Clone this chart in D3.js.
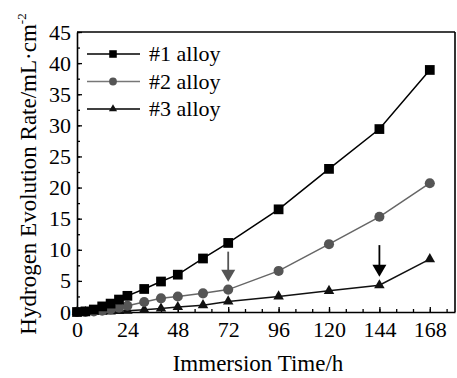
<!DOCTYPE html>
<html>
<head>
<meta charset="utf-8">
<script src="https://cdn.jsdelivr.net/npm/d3@7"></script>
<style>
  body { margin: 0; background: #fff; }
  svg text { font-family: "Liberation Serif", "Times New Roman", serif; fill: #000; }
</style>
</head>
<body>
<div id="chart"></div>
<script>
// immersion time (h) and hydrogen evolution rate (mL/cm2)
const alloy1Times = [0, 4, 8, 12, 16, 20, 24, 32, 40, 48, 60, 72, 96, 120, 144, 168];
const alloy1Values = [0, 0.1, 0.4, 0.9, 1.35, 2.0, 2.6, 3.7, 4.9, 6.0, 8.6, 11.1, 16.5, 23.0, 29.4, 38.9];

const alloy2Times = [0, 4, 8, 12, 16, 20, 24, 32, 40, 48, 60, 72, 96, 120, 144, 168];
const alloy2Values = [0, 0, 0.1, 0.2, 0.4, 0.7, 1.0, 1.6, 2.2, 2.5, 3.0, 3.6, 6.6, 10.9, 15.3, 20.7];

const alloy3Times = [0, 4, 8, 12, 16, 20, 24, 32, 40, 48, 60, 72, 96, 120, 144, 168];
const alloy3Values = [0, 0, 0, 0.05, 0.1, 0.15, 0.2, 0.35, 0.55, 0.8, 1.1, 1.7, 2.5, 3.4, 4.3, 8.5];

const seriesNames = ['#1 alloy', '#2 alloy', '#3 alloy'];
const xTickValues = [0, 24, 48, 72, 96, 120, 144, 168];
const yTickValues = [0, 5, 10, 15, 20, 25, 30, 35, 40, 45];

// arrows: [time, from, to]
const arrowTimes = [72, 144];
const arrowFrom = [9.7, 10.75];
const arrowTo = [4.85, 5.65];

const width = 457, height = 378;
const margin = { top: 32, right: 2, bottom: 66, left: 77 };
const innerW = width - margin.left - margin.right;
const innerH = height - margin.top - margin.bottom;

const svg = d3.select('#chart')
    .append('svg')
    .attr('width', width)
    .attr('height', height);

const g = svg.append('g')
    .attr('transform', `translate(${margin.left},${margin.top})`);

const x = d3.scaleLinear().domain([0, 180]).range([0, innerW]);
const y = d3.scaleLinear().domain([0, 45]).range([innerH, 0]);

const series = [
    { name: seriesNames[0], times: alloy1Times, values: alloy1Values, line: '#000', fill: '#000', shape: d3.symbolSquare, size: 95 },
    { name: seriesNames[1], times: alloy2Times, values: alloy2Values, line: '#666', fill: '#555', shape: d3.symbolCircle, size: 80 },
    { name: seriesNames[2], times: alloy3Times, values: alloy3Values, line: '#111', fill: '#111', shape: d3.symbolTriangle, size: 48 },
];

// minor ticks
g.append('g')
    .attr('transform', `translate(0,${innerH})`)
    .call(d3.axisBottom(x).tickValues(d3.range(0, 181, 8)).tickSize(-3).tickFormat(''))
    .call(a => a.select('.domain').remove())
    .selectAll('line').attr('stroke-width', 1.3);
g.append('g')
    .call(d3.axisLeft(y).tickValues(d3.range(0, 45.1, 2.5)).tickSize(-3).tickFormat(''))
    .call(a => a.select('.domain').remove())
    .selectAll('line').attr('stroke-width', 1.3);

// major axes
const xAxis = g.append('g')
    .attr('transform', `translate(0,${innerH})`)
    .call(d3.axisBottom(x).tickValues(xTickValues).tickSizeInner(-5).tickSizeOuter(0).tickPadding(9));
const yAxis = g.append('g')
    .call(d3.axisLeft(y).tickValues(yTickValues).tickSizeInner(-5).tickSizeOuter(0).tickPadding(6));

[xAxis, yAxis].forEach(a => {
    a.select('.domain').attr('stroke-width', 1.6);
    a.selectAll('line').attr('stroke-width', 1.3);
    a.selectAll('text')
        .attr('font-size', 22)
        .attr('font-family', '"Liberation Serif", serif')
        .attr('fill', '#000');
});

// frame top / right
g.append('line').attr('x1', 0).attr('x2', innerW).attr('y1', 0).attr('y2', 0)
    .attr('stroke', '#000').attr('stroke-width', 1.6);
g.append('line').attr('x1', innerW).attr('x2', innerW).attr('y1', 0).attr('y2', innerH)
    .attr('stroke', '#000').attr('stroke-width', 1.6);

// series
const line = d3.line().x(d => x(d[0])).y(d => y(d[1]));

series.slice().reverse().forEach(s => {
    const pts = s.times.map((t, i) => [t, s.values[i]]);
    g.append('path')
        .datum(pts)
        .attr('fill', 'none')
        .attr('stroke', s.line)
        .attr('stroke-width', 1.5)
        .attr('d', line);
    g.selectAll(null)
        .data(pts)
        .enter()
        .append('path')
        .attr('transform', d => `translate(${x(d[0])},${y(d[1])})`)
        .attr('d', d3.symbol().type(s.shape).size(s.size))
        .attr('fill', s.fill);
});

// arrows
const arrowColors = ['#555', '#000'];
arrowTimes.forEach((t, i) => {
    const ax = x(t), y0 = y(arrowFrom[i]), y1 = y(arrowTo[i]);
    g.append('line')
        .attr('x1', ax).attr('x2', ax)
        .attr('y1', y0).attr('y2', y1 - 10)
        .attr('stroke', arrowColors[i]).attr('stroke-width', 1.8);
    g.append('path')
        .attr('d', `M${ax - 7},${y1 - 12}L${ax + 7},${y1 - 12}L${ax},${y1}Z`)
        .attr('fill', arrowColors[i]);
});

// legend
const legend = svg.append('g').attr('transform', 'translate(87,54)');
series.forEach((s, i) => {
    const row = legend.append('g').attr('transform', `translate(0,${i * 27.5})`);
    row.append('line').attr('x1', 0).attr('x2', 53).attr('y1', 0).attr('y2', 0)
        .attr('stroke', i === 1 ? '#777' : '#000').attr('stroke-width', 1.5);
    row.append('path')
        .attr('transform', 'translate(26,0)')
        .attr('d', d3.symbol().type(s.shape).size(s.size * 0.6))
        .attr('fill', s.fill);
    row.append('text')
        .attr('x', 62).attr('y', 7)
        .attr('font-size', 22)
        .text(s.name);
});

// axis titles
svg.append('text')
    .attr('x', margin.left + innerW / 2 - 8)
    .attr('y', 371)
    .attr('text-anchor', 'middle')
    .attr('font-size', 23)
    .text('Immersion Time/h');

const yTitle = svg.append('text')
    .attr('transform', `translate(36,174) rotate(-90)`)
    .attr('text-anchor', 'middle')
    .attr('font-size', 23);
yTitle.append('tspan').text('Hydrogen Evolution Rate/mL·cm');
yTitle.append('tspan').attr('dy', -10).attr('font-size', 13).text('-2');
</script>
</body>
</html>
